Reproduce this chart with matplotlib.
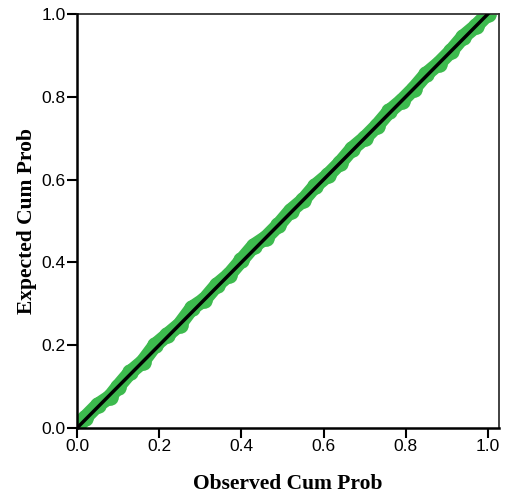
import matplotlib
matplotlib.use("Agg")
import matplotlib.pyplot as plt

observed = [0.00, 0.02, 0.05, 0.08, 0.10, 0.13, 0.16, 0.19, 0.22, 0.25, 0.28, 0.31,
            0.34, 0.37, 0.40, 0.43, 0.46, 0.49, 0.52, 0.55, 0.58, 0.61, 0.64, 0.67,
            0.70, 0.73, 0.76, 0.79, 0.82, 0.85, 0.88, 0.91, 0.94, 0.97, 1.00]
expected = [0.00, 0.025, 0.055, 0.075, 0.10, 0.135, 0.16, 0.20, 0.225, 0.25, 0.29, 0.31,
            0.345, 0.37, 0.405, 0.44, 0.46, 0.49, 0.525, 0.55, 0.585, 0.61, 0.64, 0.675,
            0.70, 0.73, 0.765, 0.79, 0.82, 0.855, 0.88, 0.91, 0.945, 0.97, 1.00]
ticks = [0.0, 0.2, 0.4, 0.6, 0.8, 1.0]
tick_labels = ["0.0", "0.2", "0.4", "0.6", "0.8", "1.0"]

fig = plt.figure(figsize=(5.05, 4.95), dpi=100)
ax = fig.add_axes([77/505, 67/495, (499-77)/505, (428-14)/495])

green = "#3dba4e"
ax.plot(observed, expected, color=green, lw=10.5, solid_capstyle="round",
        solid_joinstyle="round", zorder=2)
ax.plot(observed, expected, "o", color=green, ms=12, mec="none", zorder=2)
ax.plot([0, 1], [0, 1], color="black", lw=2.5, zorder=3)

ax.set_xlim(0, 1.027)
ax.set_ylim(0, 1.0)
ax.set_xticks(ticks)
ax.set_xticklabels(tick_labels)
ax.set_yticks(ticks)
ax.set_yticklabels(tick_labels)
ax.tick_params(direction="out", length=7, width=1.5, labelsize=12.5, pad=1,
               top=False, right=False)
for lab in ax.get_xticklabels() + ax.get_yticklabels():
    lab.set_family("Liberation Sans")
for s in ["left", "bottom"]:
    ax.spines[s].set_linewidth(1.8)
for s in ["top", "right"]:
    ax.spines[s].set_linewidth(1.3)
    ax.spines[s].set_color("#333333")
ax.spines["left"].set_zorder(5)
ax.spines["bottom"].set_zorder(5)

ax.set_xlabel("Observed Cum Prob", family="Liberation Serif", fontweight="bold",
              fontsize=15.5, labelpad=14)
ax.set_ylabel("Expected Cum Prob", family="Liberation Serif", fontweight="bold",
              fontsize=15.5, labelpad=3)

fig.savefig("out.png", dpi=100)
